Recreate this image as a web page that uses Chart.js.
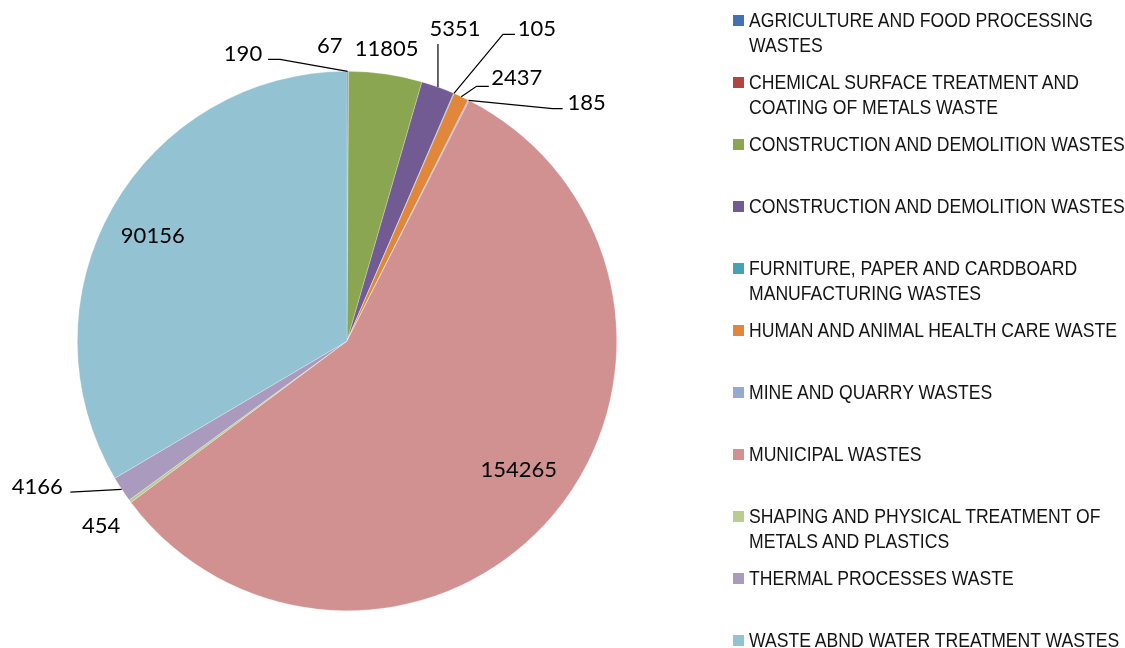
<!DOCTYPE html>
<html><head><meta charset="utf-8">
<script src="https://cdn.jsdelivr.net/npm/chart.js@4"></script>
<style>
html,body{margin:0;padding:0;background:#fff;}
#wrap{position:relative;width:1125px;height:648px;overflow:hidden;}
#c{position:absolute;left:0;top:0;}
.li{position:absolute;left:733px;width:392px;font-family:"Liberation Sans Narrow","Arial Narrow","Liberation Sans",Arial,sans-serif;font-size:20px;line-height:25px;color:#141414;}
.sw{position:absolute;left:0;top:7px;width:11px;height:11px;}
.tx{position:absolute;left:16px;width:440px;transform:scaleX(0.88);transform-origin:0 0;}
</style></head>
<body><div id="wrap"><canvas id="c" width="1125" height="648"></canvas><div id="legend"></div></div>
<script>
const categories = [
  "AGRICULTURE AND FOOD PROCESSING WASTES",
  "CHEMICAL SURFACE TREATMENT AND COATING OF METALS WASTE",
  "CONSTRUCTION AND DEMOLITION WASTES",
  "CONSTRUCTION AND DEMOLITION WASTES",
  "FURNITURE, PAPER AND CARDBOARD MANUFACTURING WASTES",
  "HUMAN AND ANIMAL HEALTH CARE WASTE",
  "MINE AND QUARRY WASTES",
  "MUNICIPAL WASTES",
  "SHAPING AND PHYSICAL TREATMENT OF METALS AND PLASTICS",
  "THERMAL PROCESSES WASTE",
  "WASTE ABND WATER TREATMENT WASTES"
];
const values = [190, 67, 11805, 5351, 105, 2437, 185, 154265, 454, 4166, 90156];
const colors = ["#4472B0","#B04644","#8AA650","#725A92","#46A0B9","#E0873C","#94AAD2","#D19190","#B9CD91","#AA9BBE","#93C2D3"];

// label placement (text centre offset from the slice's outer mid-point) and leader lines
const labelOffsets = [[-104.6,-18.5],[-18.7,-26],[1,-26.3],[17,-58.5],[83,-65],[55.6,-19.4],[118,2],[-34.5,-45],[-29,23.6],[-84.4,-3.4],[40,28.3]];
const leaderPts = [[[-67.6,-12],[-79.6,-12]], null, null, [[0,-43]], [[49,-59],[61,-59]], [[15.3,-10.4],[27.6,-10.4]], [[84,8.3],[94,8.3]], null, null, [[-51.4,2.9]], null];

const labelPlugin = {
  id: 'sliceLabels',
  afterDatasetsDraw(chart) {
    const ctx = chart.ctx;
    const meta = chart.getDatasetMeta(0);
    ctx.save();
    ctx.font = '22px Lato, "Open Sans", sans-serif';
    ctx.fillStyle = '#000';
    ctx.strokeStyle = '#000';
    ctx.lineWidth = 1.2;
    ctx.textAlign = 'center';
    ctx.textBaseline = 'alphabetic';
    meta.data.forEach((arc, i) => {
      const p = arc.getProps(['x','y','startAngle','endAngle','outerRadius'], true);
      const mid = (p.startAngle + p.endAngle) / 2;
      const ax = p.x + Math.cos(mid) * p.outerRadius;
      const ay = p.y + Math.sin(mid) * p.outerRadius;
      const lp = leaderPts[i];
      if (lp) {
        ctx.beginPath();
        ctx.moveTo(ax, ay);
        lp.forEach(q => ctx.lineTo(ax + q[0], ay + q[1]));
        ctx.stroke();
      }
      const off = labelOffsets[i];
      ctx.fillText(String(values[i]), ax + off[0], ay + off[1] + 7.8);
    });
    ctx.restore();
  }
};

new Chart(document.getElementById('c'), {
  type: 'pie',
  data: {
    labels: categories,
    datasets: [{
      data: values,
      backgroundColor: colors,
      borderColor: 'rgba(255,255,255,0.45)',
      borderWidth: 0.6
    }]
  },
  options: {
    responsive: false,
    animation: false,
    layout: { padding: { left: 77, right: 508, top: 71, bottom: 37 } },
    plugins: { legend: { display: false }, tooltip: { enabled: false } }
  },
  plugins: [labelPlugin]
});

// legend
const lg = document.getElementById('legend');
categories.forEach((name, i) => {
  const d = document.createElement('div');
  d.className = 'li';
  d.style.top = (20 + 62 * i - 12.5) + 'px';
  const s = document.createElement('div');
  s.className = 'sw';
  s.style.background = colors[i];
  const t = document.createElement('div');
  t.className = 'tx';
  t.textContent = name;
  d.appendChild(s); d.appendChild(t);
  lg.appendChild(d);
});
</script>
</body></html>
